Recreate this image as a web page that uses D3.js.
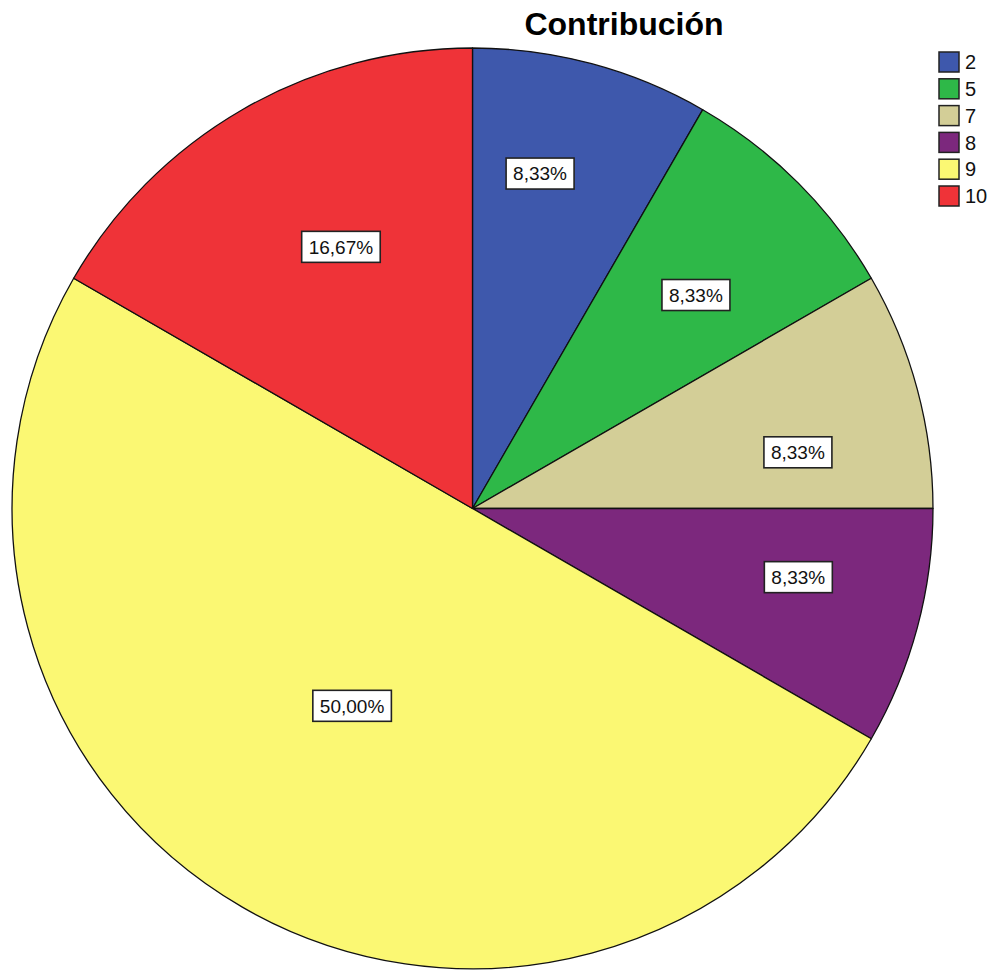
<!DOCTYPE html>
<html>
<head>
<meta charset="utf-8">
<script src="https://cdn.jsdelivr.net/npm/d3@7/dist/d3.min.js"></script>
<style>
  html, body { margin: 0; padding: 0; background: #fff; }
  svg { display: block; }
</style>
</head>
<body>
<script>
// ---- data ----
const title = "Contribución";
const categories = ["2", "5", "7", "8", "9", "10"];
const values = [1, 1, 1, 1, 6, 2];
const labels = ["8,33%", "8,33%", "8,33%", "8,33%", "50,00%", "16,67%"];
const colors = ["#3E58AC", "#2EB848", "#D3CE97", "#7C287D", "#FBF873", "#EF3338"];

// ---- label layout (fraction of radius, angular shift in degrees) ----
const labelRadiusFrac = [0.742, 0.671, 0.717, 0.723, 0.502, 0.636];
const labelAngleShift = [-3.6, 1.3, 5.2, -3.1, 1.4, 3.3];

const W = 991, H = 970;
const cx = 472.5, cy = 508.5, R = 460.5;

const svg = d3.select("body").append("svg")
  .attr("width", W).attr("height", H)
  .style("font-family", "Arial, 'Liberation Sans', sans-serif");

// title
svg.append("text")
  .attr("x", 624).attr("y", 35)
  .attr("text-anchor", "middle")
  .attr("font-size", 32).attr("font-weight", "bold")
  .attr("fill", "#000")
  .text(title);

const data = categories.map((c, i) => ({ cat: c, value: values[i], label: labels[i], color: colors[i], i }));

const pie = d3.pie().sort(null).value(d => d.value);
const arcs = pie(data);
const arc = d3.arc().innerRadius(0).outerRadius(R);

const g = svg.append("g").attr("transform", `translate(${cx},${cy})`);

g.selectAll("path.slice").data(arcs).join("path")
  .attr("class", "slice")
  .attr("d", arc)
  .attr("fill", d => d.data.color)
  .attr("stroke", "#111")
  .attr("stroke-width", 1.3)
  .attr("stroke-linejoin", "round");

// labels
const lg = g.selectAll("g.lbl").data(arcs).join("g").attr("class", "lbl")
  .attr("transform", d => {
    const a = (d.startAngle + d.endAngle) / 2 + labelAngleShift[d.data.i] * Math.PI / 180;
    const r = R * labelRadiusFrac[d.data.i];
    return `translate(${r * Math.sin(a)},${-r * Math.cos(a)})`;
  });

lg.each(function(d) {
  const sel = d3.select(this);
  const t = sel.append("text")
    .attr("text-anchor", "middle")
    .attr("dy", "0.36em")
    .attr("font-size", 19)
    .attr("fill", "#111")
    .text(d.data.label);
  const bb = t.node().getBBox();
  const padX = 7, boxH = 31;
  sel.insert("rect", "text")
    .attr("x", bb.x - padX).attr("y", -boxH / 2)
    .attr("width", bb.width + 2 * padX).attr("height", boxH)
    .attr("fill", "#fff")
    .attr("stroke", "#222").attr("stroke-width", 1.6);
});

// legend
const legend = svg.append("g").attr("transform", "translate(939,52)");
const step = 26.8, sq = 20;
const li = legend.selectAll("g").data(data).join("g")
  .attr("transform", (d, i) => `translate(0,${i * step})`);
li.append("rect")
  .attr("x", 0).attr("y", 0).attr("width", sq).attr("height", sq)
  .attr("fill", d => d.color)
  .attr("stroke", "#222").attr("stroke-width", 1.5);
li.append("text")
  .attr("x", sq + 6).attr("y", sq / 2)
  .attr("dy", "0.36em")
  .attr("font-size", 20)
  .attr("fill", "#111")
  .text(d => d.cat);
</script>
</body>
</html>
